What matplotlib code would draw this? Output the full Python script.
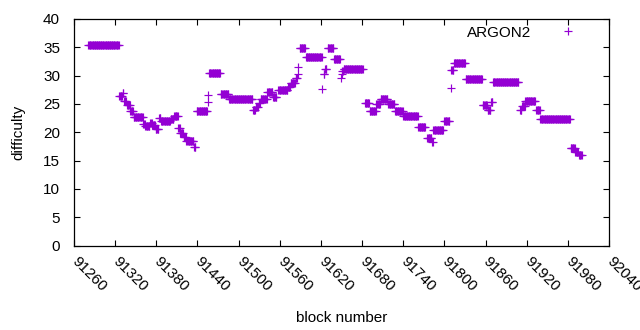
import numpy as np
import matplotlib
matplotlib.use("Agg")
import matplotlib.pyplot as plt

plt.rcParams['font.family'] = ['Liberation Sans', 'DejaVu Sans']

# Runs of constant difficulty: (first block, last block, difficulty)
run_start = [91281, 91326, 91331, 91333, 91337, 91342, 91347, 91361, 91364, 91371,
             91374, 91379, 91384, 91387, 91401, 91406, 91412, 91415, 91420, 91424,
             91435, 91439, 91455, 91456, 91457, 91474, 91486, 91521, 91525, 91529,
             91532, 91542, 91550, 91558, 91572, 91576, 91583, 91586, 91587, 91589,
             91598, 91622, 91624, 91626, 91630, 91639, 91649, 91650, 91651, 91653,
             91684, 91691, 91701, 91707, 91718, 91728, 91740, 91762, 91775, 91782,
             91784, 91800, 91809, 91810, 91814, 91831, 91856, 91863, 91868, 91871,
             91910, 91913, 91918, 91934, 91940, 91984, 91991, 91996]
run_end = [91325, 91330, 91332, 91336, 91341, 91346, 91360, 91363, 91370, 91373,
           91378, 91383, 91386, 91400, 91405, 91411, 91414, 91419, 91423, 91434,
           91437, 91454, 91455, 91456, 91473, 91485, 91520, 91524, 91528, 91531,
           91541, 91549, 91555, 91571, 91575, 91582, 91585, 91586, 91587, 91597,
           91621, 91622, 91625, 91628, 91638, 91648, 91649, 91650, 91652, 91681,
           91690, 91700, 91706, 91717, 91727, 91739, 91761, 91772, 91781, 91783,
           91798, 91807, 91809, 91813, 91830, 91855, 91862, 91867, 91870, 91908,
           91912, 91917, 91932, 91939, 91983, 91990, 91995, 92000]
run_value = [35.4, 26.4, 27.0, 25.5, 24.8, 23.8, 22.7, 21.5, 21.1, 21.7,
             21.3, 20.6, 22.5, 21.9, 22.3, 22.8, 20.8, 19.9, 19.2, 18.4,
             17.4, 23.8, 25.4, 26.6, 30.4, 26.8, 25.8, 23.9, 24.5, 25.2,
             25.9, 27.1, 26.3, 27.5, 28.0, 28.7, 29.6, 30.3, 31.6, 34.9,
             33.3, 27.7, 30.3, 31.2, 34.9, 32.9, 29.5, 30.3, 30.8, 31.2,
             25.2, 23.8, 25.0, 25.8, 25.0, 23.8, 22.9, 20.9, 19.0, 18.3,
             20.4, 22.0, 27.8, 31.0, 32.2, 29.4, 24.8, 23.9, 25.4, 28.8,
             23.9, 24.6, 25.6, 23.9, 22.3, 17.2, 16.5, 15.9]

x_ticks = list(range(91260, 92041, 60))
y_ticks = list(range(0, 41, 5))

blocks = []
diffs = []
for s, e, v in zip(run_start, run_end, run_value):
    for b in range(s, e + 1):
        blocks.append(b)
        diffs.append(v)

fig = plt.figure(figsize=(6.4, 3.3), dpi=100)
ax = fig.add_axes([74/640, 1 - 245.5/330, (609-74)/640, (245.5-19)/330])

color = '#9400D3'
ax.plot(blocks, diffs, linestyle='none', marker='+', markersize=5.5, mew=0.85,
        color=color, label='ARGON2')

fs = 11
ax.set_xlim(91260, 92040)
ax.set_ylim(0, 40)
ax.set_xticks(x_ticks)
ax.set_yticks(y_ticks)
ax.set_xticklabels([str(t) for t in x_ticks], rotation=-45, ha='left', va='center',
                   rotation_mode='anchor', fontsize=fs)
ax.set_yticklabels([str(t) for t in y_ticks], fontsize=fs)
ax.tick_params(direction='in', length=4, width=0.8, top=True, right=True,
               color='black')
ax.tick_params(axis='x', pad=10)
ax.tick_params(axis='y', pad=10)
for sp in ax.spines.values():
    sp.set_linewidth(0.9)
    sp.set_color('black')

ax.set_xlabel('block number', fontsize=fs, labelpad=12)
ax.set_ylabel('difficulty', fontsize=fs, labelpad=13)

leg = ax.legend(loc='upper right', bbox_to_anchor=(0.963, 0.997), frameon=False,
                markerfirst=False, fontsize=fs, handlelength=2.0, borderpad=0.4,
                borderaxespad=0.0, handletextpad=1.42)

fig.savefig('out.png', dpi=100)
